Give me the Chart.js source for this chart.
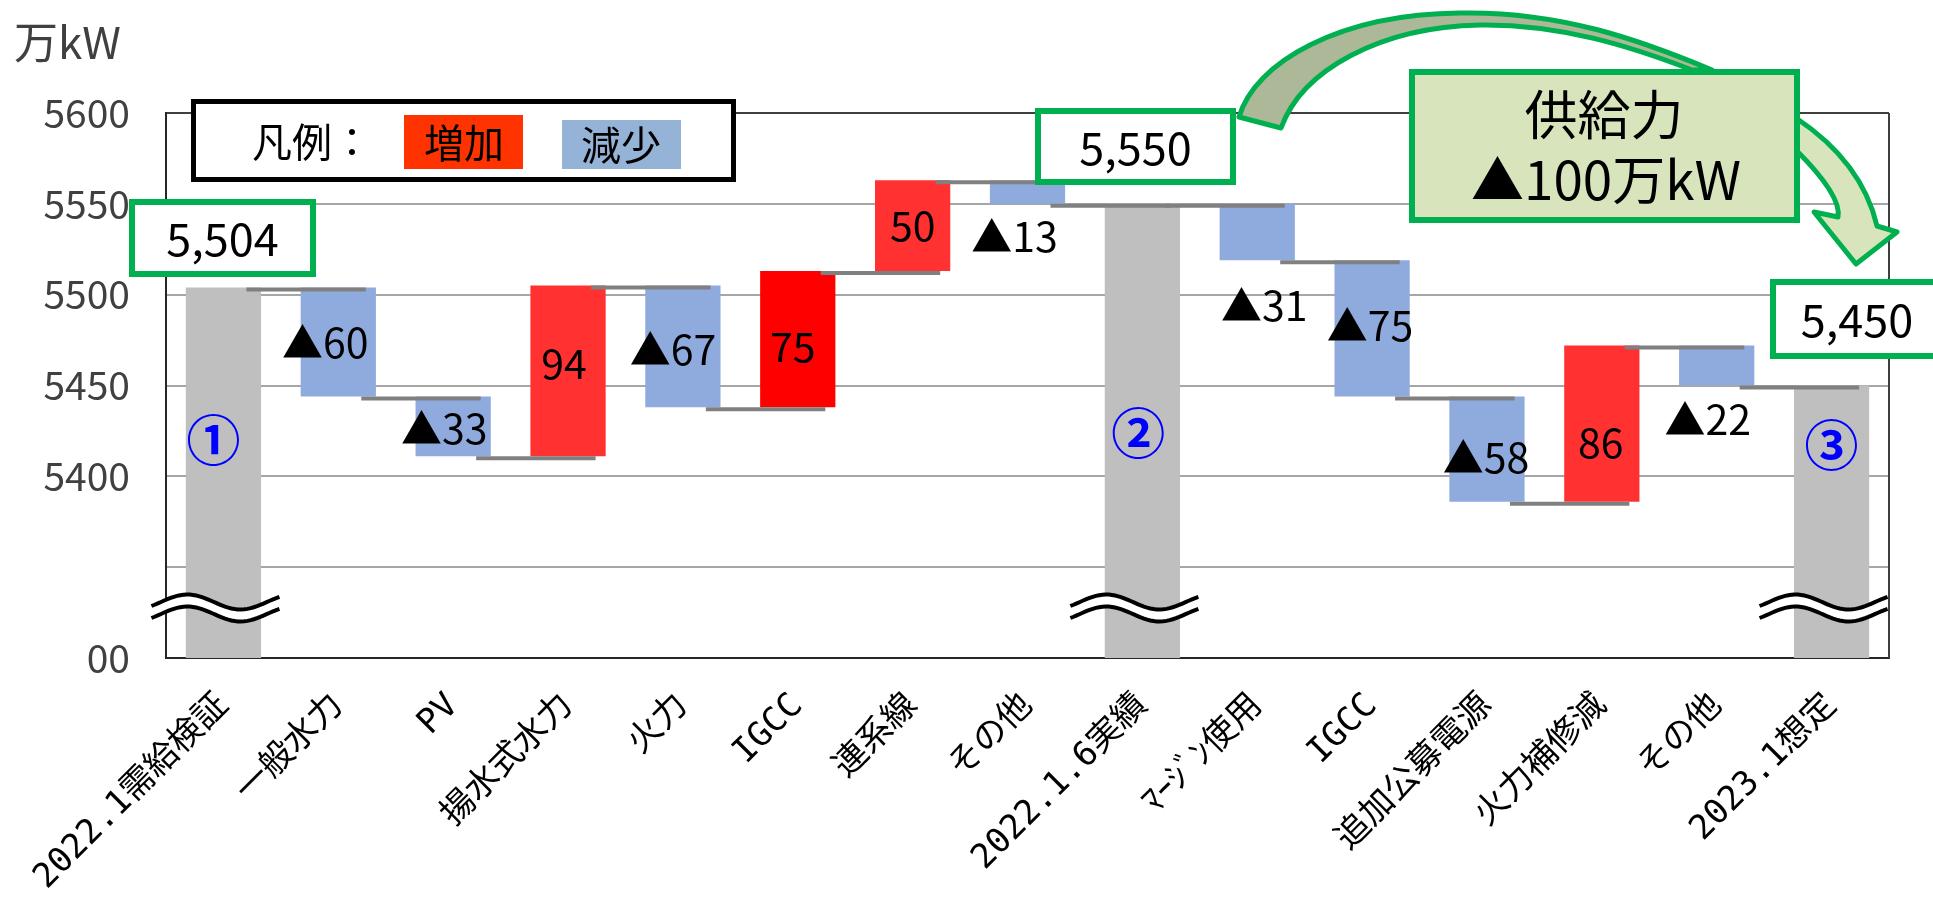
<!DOCTYPE html>
<html>
<head>
<meta charset="utf-8">
<script src="https://cdn.jsdelivr.net/npm/chart.js@4/dist/chart.umd.min.js"></script>
<style>
  html, body { margin: 0; padding: 0; background: #ffffff; }
  #wrap { width: 1933px; height: 912px; position: relative; }
</style>
</head>
<body>
<div id="wrap"><canvas id="chart"></canvas></div>
<script>
// ---- data ----
const categories = ['2022.1需給検証', '一般水力', 'PV', '揚水式水力', '火力', 'IGCC', '連系線', 'その他',
                    '2022.1.6実績', 'ﾏｰｼﾞﾝ使用', 'IGCC', '追加公募電源', '火力補修減', 'その他', '2023.1想定'];
const kinds = ['total', 'delta', 'delta', 'delta', 'delta', 'delta', 'delta', 'delta',
               'total', 'delta', 'delta', 'delta', 'delta', 'delta', 'total'];
const values = [5504, -60, -33, 94, -67, 75, 50, -13, 5550, -31, -75, -58, 86, -22, 5450];
const yTickValues = [5300, 5350, 5400, 5450, 5500, 5550, 5600];
const yTickLabels = ['00', '', '5400', '5450', '5500', '5550', '5600'];
const totalMarkers = ['①', '②', '③'];
const legendTitle = '凡例：';
const legendUp = '増加';
const legendDown = '減少';
const unitLabel = '万kW';
const supplyTitle = '供給力';

// ---- styles ----
const FONT = "'Noto Sans CJK JP', 'Noto Sans', sans-serif";
const AXIS_FONT = "'DejaVu Sans Mono', 'Noto Sans CJK JP', monospace";
const GREY = '#BFBFBF', RED = '#FF3131', RED_SOLID = '#FF0000', BLUE = '#8FAADC';
const GREEN = '#00B050';
const barColors = [GREY, BLUE, BLUE, RED, BLUE, RED_SOLID, RED, BLUE, GREY, BLUE, BLUE, BLUE, RED, BLUE, GREY];
// label nudges in px relative to the middle of each bar: [dx, dy]
const labelNudge = [[0,0],[-13,1],[-9,2],[-4,-8],[-10,3],[-5,7],[0,0],[-13,44],[0,0],[7,73],[-2,-3],[-1,8],[-1,19],[-9,54],[0,0]];
const markerNudge = [[-10, 0], [-4, -7], [0, 5]];

// ---- derived waterfall geometry ----
const yMin = yTickValues[0], yMax = yTickValues[yTickValues.length - 1];
const floats = [], levels = [], totals = [];
let running = 0;
values.forEach((v, i) => {
  if (kinds[i] === 'total') {
    floats.push([yMin, v]);
    running = v;
    totals.push(i);
  } else {
    floats.push([running, running + v]);
    running += v;
  }
  levels.push(running);
});
const fmtDelta = v => (v < 0 ? '▲' + Math.abs(v) : String(v));
const supplyDelta = values[totals[2]] - values[totals[1]];

function frameBox(ctx, x1, y1, x2, y2, lw, stroke, fill) {
  ctx.save();
  ctx.lineWidth = lw;
  ctx.strokeStyle = stroke;
  ctx.lineJoin = 'miter';
  const h = lw / 2;
  ctx.beginPath();
  ctx.rect(x1 + h, y1 + h, x2 - x1 - lw, y2 - y1 - lw);
  if (fill) { ctx.fillStyle = fill; ctx.fill(); }
  ctx.stroke();
  ctx.restore();
}

const waterfallDecor = {
  id: 'waterfallDecor',
  afterDatasetsDraw(chart) {
    const ctx = chart.ctx;
    const xs = chart.scales.x, ys = chart.scales.y;
    const area = chart.chartArea;
    const catW = xs.getPixelForValue(1) - xs.getPixelForValue(0);

    // right frame line
    ctx.save();
    ctx.strokeStyle = '#404040';
    ctx.lineWidth = 2;
    ctx.beginPath();
    ctx.moveTo(area.right, area.top);
    ctx.lineTo(area.right, area.bottom);
    ctx.stroke();
    ctx.restore();

    // connector lines between consecutive bars
    ctx.save();
    ctx.strokeStyle = '#808080';
    ctx.lineWidth = 4;
    for (let i = 0; i < values.length - 1; i++) {
      const y = ys.getPixelForValue(levels[i]) + 2;
      const x1 = xs.getPixelForValue(i) + catW * 0.2;
      const x2 = xs.getPixelForValue(i + 1) + catW * 0.24;
      ctx.beginPath();
      ctx.moveTo(x1, y);
      ctx.lineTo(x2, y);
      ctx.stroke();
    }
    ctx.restore();

    // value labels of the change bars
    ctx.save();
    ctx.fillStyle = '#000000';
    ctx.font = '41px ' + FONT;
    ctx.textAlign = 'center';
    ctx.textBaseline = 'middle';
    values.forEach((v, i) => {
      if (kinds[i] !== 'delta') return;
      const mid = (ys.getPixelForValue(floats[i][0]) + ys.getPixelForValue(floats[i][1])) / 2;
      const x = xs.getPixelForValue(i) + labelNudge[i][0];
      ctx.fillText(fmtDelta(v), x, mid + labelNudge[i][1]);
    });
    ctx.restore();

    // axis break marks on the total bars
    totals.forEach(i => {
      const cx = xs.getPixelForValue(i);
      const base = area.bottom - 56;
      const wave = (dy) => {
        const pts = [];
        for (let k = 0; k <= 40; k++) {
          const x = cx - 72 + 128 * k / 40;
          const ph = (x - (cx - 62.5)) / 106 * Math.PI * 2;
          pts.push([x, base + dy - 7.5 * Math.sin(ph)]);
        }
        return pts;
      };
      const w1 = wave(0), w2 = wave(12);
      ctx.save();
      ctx.fillStyle = '#ffffff';
      ctx.beginPath();
      w1.forEach((p, k) => k ? ctx.lineTo(p[0], p[1]) : ctx.moveTo(p[0], p[1]));
      for (let k = w2.length - 1; k >= 0; k--) ctx.lineTo(w2[k][0], w2[k][1]);
      ctx.closePath();
      ctx.fill();
      ctx.strokeStyle = '#000000';
      ctx.lineWidth = 4;
      [w1, w2].forEach(w => {
        ctx.beginPath();
        w.forEach((p, k) => k ? ctx.lineTo(p[0], p[1]) : ctx.moveTo(p[0], p[1]));
        ctx.stroke();
      });
      ctx.restore();
    });

    // circled markers on the total bars
    ctx.save();
    ctx.fillStyle = '#0000FF';
    ctx.font = 'bold 54px ' + FONT;
    ctx.textAlign = 'center';
    ctx.textBaseline = 'middle';
    totals.forEach((i, k) => {
      const x = xs.getPixelForValue(i) + markerNudge[k][0];
      const y = ys.getPixelForValue(5420) + markerNudge[k][1];
      ctx.fillText(totalMarkers[k], x, y);
    });
    ctx.restore();
  },
  afterDraw(chart) {
    const ctx = chart.ctx;

    // unit
    ctx.save();
    ctx.fillStyle = '#404040';
    ctx.font = '44px ' + FONT;
    ctx.textAlign = 'left';
    ctx.textBaseline = 'middle';
    ctx.fillText(unitLabel, 14, 42);
    ctx.restore();

    // legend
    frameBox(ctx, 191, 99, 736, 182, 5, '#000000', '#ffffff');
    ctx.save();
    ctx.fillStyle = '#FF3300';
    ctx.fillRect(404, 115, 119, 54);
    ctx.fillStyle = '#95B3D7';
    ctx.fillRect(562, 120, 119, 49);
    ctx.fillStyle = '#000000';
    ctx.font = '40px ' + FONT;
    ctx.textBaseline = 'middle';
    ctx.textAlign = 'left';
    ctx.fillText(legendTitle, 252, 142);
    ctx.textAlign = 'center';
    ctx.fillText(legendUp, 464, 143);
    ctx.fillText(legendDown, 621, 145);
    ctx.restore();

    // curved arrow: tail leaving the mid total box
    ctx.save();
    ctx.lineWidth = 5;
    ctx.strokeStyle = GREEN;
    ctx.lineJoin = 'round';
    ctx.fillStyle = '#ADB899';
    ctx.beginPath();
    ctx.moveTo(1239, 117);
    ctx.bezierCurveTo(1255, 62, 1340, 14, 1460, 13);
    ctx.bezierCurveTo(1560, 11, 1640, 40, 1712, 70);
    ctx.lineTo(1692, 70);
    ctx.bezierCurveTo(1630, 46, 1560, 24, 1480, 25);
    ctx.bezierCurveTo(1380, 27, 1302, 70, 1281, 128);
    ctx.closePath();
    ctx.fill();
    ctx.stroke();
    // head going down to the final total
    ctx.fillStyle = '#D8E4BC';
    ctx.beginPath();
    ctx.moveTo(1796, 118);
    ctx.quadraticCurveTo(1862, 162, 1877, 226);
    ctx.lineTo(1897, 232);
    ctx.lineTo(1856, 264);
    ctx.lineTo(1814, 212);
    ctx.lineTo(1838, 217);
    ctx.quadraticCurveTo(1842, 196, 1796, 150);
    ctx.closePath();
    ctx.fill();
    ctx.stroke();
    ctx.restore();

    // supply change box
    frameBox(ctx, 1409, 69, 1800, 223, 6, GREEN, '#D8E4BC');
    ctx.save();
    ctx.fillStyle = '#000000';
    ctx.font = '53px ' + FONT;
    ctx.textAlign = 'center';
    ctx.textBaseline = 'middle';
    ctx.fillText(supplyTitle, 1604, 115);
    ctx.fillText(fmtDelta(supplyDelta) + unitLabel, 1606, 180);
    ctx.restore();

    // total value boxes
    const boxes = [[129, 199, 316, 277], [1035, 108, 1236, 185], [1770, 279, 1945, 359]];
    ctx.save();
    totals.forEach((i, k) => {
      const b = boxes[k];
      frameBox(ctx, b[0], b[1], b[2], b[3], 6, GREEN, '#ffffff');
      ctx.fillStyle = '#000000';
      ctx.font = '45px ' + FONT;
      ctx.textAlign = 'center';
      ctx.textBaseline = 'middle';
      const cx = k === 2 ? 1857 : (b[0] + b[2]) / 2;
      ctx.fillText(values[i].toLocaleString('en-US'), cx, (b[1] + b[3]) / 2 + 1);
    });
    ctx.restore();
  }
};

Chart.defaults.font.family = FONT;

new Chart(document.getElementById('chart'), {
  type: 'bar',
  data: {
    labels: categories,
    datasets: [{
      data: floats,
      backgroundColor: barColors,
      borderWidth: 0,
      barPercentage: 0.655,
      categoryPercentage: 1.0
    }]
  },
  options: {
    responsive: true,
    maintainAspectRatio: false,
    animation: false,
    layout: { padding: { top: 113, right: 44, bottom: 0, left: 0 } },
    plugins: { legend: { display: false }, tooltip: { enabled: false } },
    scales: {
      x: {
        grid: { display: false, drawTicks: false },
        border: { display: true, color: '#262626', width: 2 },
        ticks: {
          autoSkip: false,
          minRotation: 45,
          maxRotation: 45,
          padding: 28,
          color: '#000000',
          font: { size: 34, family: AXIS_FONT }
        },
        afterFit(scale) {
          scale.height = 254;
          scale.paddingLeft = 0; scale.paddingRight = 0;
          scale.paddingTop = 0; scale.paddingBottom = 0;
        }
      },
      y: {
        min: yMin,
        max: yMax,
        afterBuildTicks(scale) { scale.ticks = yTickValues.map(v => ({ value: v })); },
        grid: {
          drawTicks: false,
          lineWidth: 2,
          color: c => (c.tick && c.tick.value === yMax ? '#404040' : '#A6A6A6')
        },
        border: { display: true, color: '#262626', width: 2 },
        ticks: {
          padding: 36,
          color: '#404040',
          font: { size: 39, family: FONT },
          callback: (v) => yTickLabels[yTickValues.indexOf(v)]
        },
        afterFit(scale) {
          scale.width = 166;
          scale.paddingTop = 0; scale.paddingBottom = 0;
          scale.paddingLeft = 0; scale.paddingRight = 0;
        }
      }
    }
  },
  plugins: [waterfallDecor]
});
</script>
</body>
</html>
